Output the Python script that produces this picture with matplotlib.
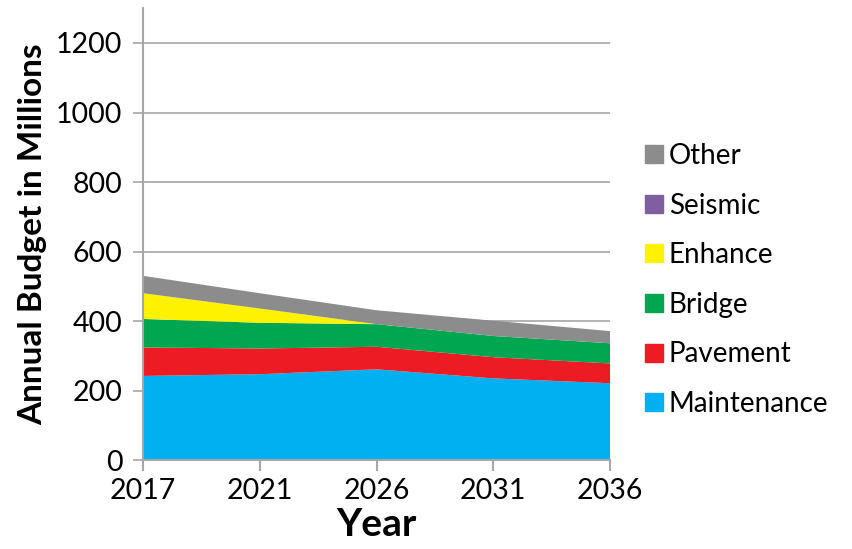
import matplotlib.pyplot as plt
from matplotlib.lines import Line2D

# values (millions)
years = ['2017', '2021', '2026', '2031', '2036']
maintenance = [242, 247, 261, 235, 221]
pavement = [82, 74, 65, 61, 57]
bridge = [82, 74, 65, 61, 58]
enhance = [74, 41, 0, 0, 0]
seismic = [0, 0, 0, 0, 0]
other = [50, 44, 40, 44, 35]

names = ['Maintenance', 'Pavement', 'Bridge', 'Enhance', 'Seismic', 'Other']
colors = ['#00B0F0', '#ED1C24', '#00A650', '#FFF200', '#7F5F9F', '#8C8C8C']

plt.rcParams['font.family'] = ['Lato', 'DejaVu Sans']

fig = plt.figure(figsize=(8.52, 5.49), dpi=100)
ax = fig.add_axes([0.168, 0.162, 0.548, 0.823])

x = range(len(years))
ax.stackplot(x, maintenance, pavement, bridge, enhance, seismic, other,
             colors=colors, linewidth=0, zorder=2)

ax.set_xlim(0, len(years) - 1)
ax.set_ylim(0, 1300)
ax.set_yticks(range(0, 1201, 200))
ax.set_xticks(list(x))
ax.set_xticklabels(years)
ax.grid(axis='y', color='#A6A6A6', linewidth=1.2, zorder=1)

for s in ['top', 'right']:
    ax.spines[s].set_visible(False)
for s in ['left', 'bottom']:
    ax.spines[s].set_color('#A6A6A6')
    ax.spines[s].set_linewidth(1.5)
    ax.spines[s].set_zorder(3)

ax.tick_params(axis='y', length=7, width=1.2, color='#A6A6A6', labelsize=20.5, pad=8)
ax.tick_params(axis='x', length=8, width=1.5, color='#A6A6A6', labelsize=20.5, pad=5)

ax.set_ylabel('Annual Budget in Millions', fontsize=24, fontweight='bold', labelpad=6)
ax.set_xlabel('Year', fontsize=28, fontweight='bold', labelpad=2)

handles = [Line2D([], [], marker='s', linestyle='', markersize=13,
                  markerfacecolor=c, markeredgecolor=c) for c in colors]
fig.legend(handles[::-1], names[::-1], loc='center left',
           bbox_to_anchor=(0.72, 0.49), frameon=False, fontsize=20,
           handletextpad=0.0, labelspacing=0.85, handlelength=1.1)

fig.savefig('out.png', dpi=100)
